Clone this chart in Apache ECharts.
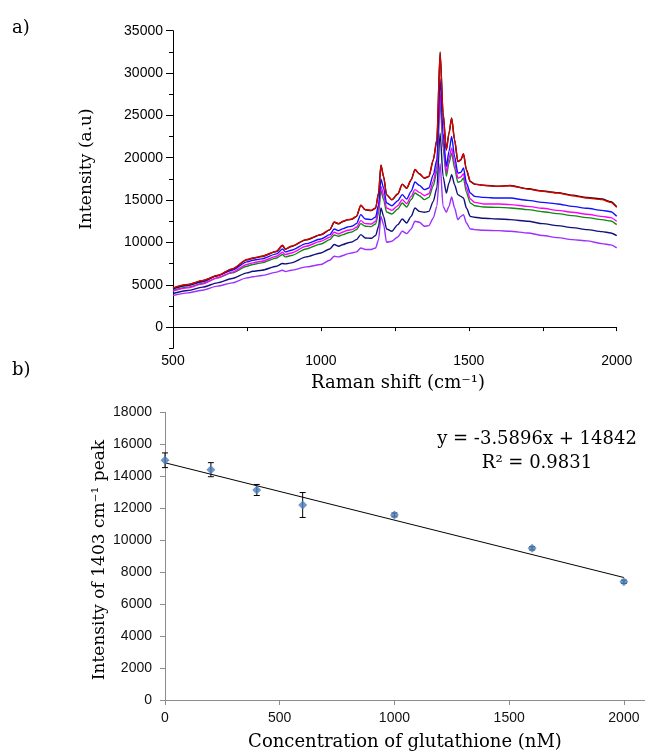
<!DOCTYPE html>
<html><head><meta charset="utf-8">
<script src="https://cdn.jsdelivr.net/npm/echarts@6/dist/echarts.min.js"></script>
<style>html,body{margin:0;padding:0;background:#fff}#c{width:645px;height:752px}</style>
</head><body><div id="c"></div><script>
// ---- Panel a) Raman spectra ----
const ramanShift = [500,550,600,650,700,750,770,800,850,870, 880,900,950,1000,1030,1045,1060,1075,1090,1105, 1120,1135,1150,1170,1185,1195,1203,1212,1222,1240, 1260,1275,1290,1305,1318,1333,1350,1365,1380,1392, 1403,1413,1424,1433,1442,1452,1463,1473,1482,1492, 1505,1520,1550,1600,1640,1700,1750,1800,1850,1900, 1950,1980,2000];
const specBlack = [4600,5000,5480,6060,6850,7940,8140,8340,8930,9640, 9200,9520,10300,10900,11480,12390,12200,12470,12660,12740, 13050,14380,13840,13760,14040,15800,19150,17760,15610,15020, 15720,16860,16390,17370,18590,18080,17570,17770,19730,22100, 32500,25300,20900,22870,24700,22090,19540,19730,20440,18560, 17190,16880,16760,16640,16720,16330,16070,15880,15580,15310, 15120,14800,14220];
const specRed = [4640,5030,5500,6090,6880,7980,8170,8370,8960,9670, 9230,9550,10330,10920,11510,12420,12220,12500,12690,12770, 13080,14420,13870,13790,14070,15830,19090,17800,15640,15050, 15750,16890,16420,17400,18620,18110,17600,17800,19760,22120, 32330,25260,20940,22900,24670,22120,19570,19760,20470,18580, 17210,16890,16740,16620,16700,16300,16030,15830,15520,15240, 15050,14730,14140];
const specBlue = [4520,4910,5350,6090,6720,7700,7900,8060,8650,9230, 8880,9080,9860,10410,10920,11590,11400,11630,11830,11910, 12220,13280,12770,12690,13010,14460,17480,16420,14660,14340, 14930,15640,15130,16030,17130,16740,16230,16420,17990,19760, 29270,22900,18980,20740,22510,20150,18190,18270,18780,17010, 15830,15440,15320,15240,15240,14970,14730,14540,14260,14030, 13790,13630,13080];
const specMagenta = [4250,4640,5110,5820,6490,7390,7590,7780,8370,8840, 8570,8760,9550,10140,10610,11200,11000,11240,11430,11510, 11790,12570,12220,12180,12500,13870,16620,15640,14070,13790, 14340,15050,14580,15440,16230,15910,15520,15750,17210,18980, 27620,21920,18270,19960,21140,19370,17600,17720,18110,16420, 15130,14730,14540,14540,14460,14260,14030,13790,13560,13320, 13080,12930,12500];
const specGreen = [4360,4720,5150,5820,6410,7190,7390,7590,8170,8570, 8290,8450,9230,9820,10330,10880,10730,10920,11120,11240, 11510,12220,11910,11870,12180,13480,16110,15050,13590,13360, 13950,14660,14180,15050,15830,15520,15050,15320,16700,18390, 26640,21140,17800,19370,20550,18780,17090,17210,17600,15910, 14660,14340,14180,14140,14070,13870,13630,13400,13160,12930, 12690,12530,12100];
const specNavy = [3970,4320,4720,5230,5740,6410,6600,6720,7190,7510, 7470,7590,8290,8760,9230,9750,9550,9750,9940,10060, 10330,10920,10530,10490,10810,11910,14070,13080,11590,11320, 12100,12770,12300,13080,14070,13670,13560,13670,14850,16420, 22900,17800,15830,17010,17990,16820,15640,15440,15240,14070, 13080,12970,12850,12770,12690,12500,12220,11980,11750,11510, 11280,11120,10810];
const specPurple = [3740,4050,4360,4840,5230,5820,5940,6090,6490,6720, 6560,6720,7110,7390,7900,8370,8290,8450,8650,8760, 8880,9350,9160,9160,9350,10330,13080,12100,10020,10140, 10650,11320,11040,11590,12500,12380,11910,11980,12890,14260, 19290,14260,13560,14260,15360,14070,12690,13080,13280,12300, 11590,11510,11430,11390,11320,11120,10810,10570,10330,10180, 9860,9710,9350];
const spectraYTicks = [0,5000,10000,15000,20000,25000,30000,35000];
const spectraXTicks = [500,1000,1500,2000];

// ---- Panel b) calibration ----
const concentration = [0,200,400,600,1000,1600,2000];
const peakIntensity = [15000,14410,13140,12200,11580,9490,7400];
const peakError = [460,440,345,780,120,100,100];
const trendX = [0,2000];
const trendY = [14842,7663];
const concXTicks = [0,500,1000,1500,2000];

const pair = (xs, ys) => xs.map((x, i) => [x, ys[i]]);
const serif = 'DejaVu Serif';
const sans = 'Liberation Sans';
const plain = v => String(v);

const spectra = [
  {name:'purple', data:specPurple, color:'#9b30ff'},
  {name:'navy', data:specNavy, color:'#10107a'},
  {name:'green', data:specGreen, color:'#108a10'},
  {name:'magenta', data:specMagenta, color:'#ff00ff'},
  {name:'blue', data:specBlue, color:'#1010ff'},
  {name:'black', data:specBlack, color:'#000000'},
  {name:'red', data:specRed, color:'#d80000'}
];

const chart = echarts.init(document.getElementById('c'), null, {renderer:'canvas'});
const option = {
  animation:false,
  backgroundColor:'#fff',
  grid:[
    {left:173, top:30.7, width:443.7, height:317.6},
    {left:165, top:412.3, width:480, height:287.7}
  ],
  xAxis:[
    {gridIndex:0, type:'value', min:500, max:2000, interval:250,
     axisLine:{lineStyle:{color:'#000', width:1}},
     axisTick:{show:true, length:4, lineStyle:{color:'#000'}},
     axisLabel:{customValues:spectraXTicks, formatter:plain, color:'#000', fontFamily:sans, fontSize:14, margin:6},
     splitLine:{show:false}},
    {gridIndex:1, type:'value', min:0, max:2092,
     axisLine:{lineStyle:{color:'#8c8c8c', width:1}},
     axisTick:{show:true, customValues:concXTicks, length:5, lineStyle:{color:'#8c8c8c'}},
     axisLabel:{customValues:concXTicks, formatter:plain, color:'#111', fontFamily:sans, fontSize:14, margin:11},
     splitLine:{show:false}}
  ],
  yAxis:[
    {gridIndex:0, type:'value', position:'left', min:-2500, max:35000, interval:2500,
     axisLine:{show:true, lineStyle:{color:'#000', width:1}},
     axisTick:{show:true, length:4, lineStyle:{color:'#000'}},
     axisLabel:{customValues:spectraYTicks, formatter:plain, color:'#000', fontFamily:sans, fontSize:14, margin:10},
     splitLine:{show:false}},
    {gridIndex:0, type:'value', position:'left', offset:0, min:-2500, max:35000,
     axisLine:{show:false},
     axisTick:{show:true, customValues:spectraYTicks, length:7, lineStyle:{color:'#000'}},
     axisLabel:{show:false},
     splitLine:{show:false}},
    {gridIndex:1, type:'value', position:'left', min:0, max:18000, interval:2000,
     axisLine:{show:true, lineStyle:{color:'#8c8c8c', width:1}},
     axisTick:{show:true, length:5, lineStyle:{color:'#8c8c8c'}},
     axisLabel:{formatter:plain, color:'#111', fontFamily:sans, fontSize:14, margin:13},
     splitLine:{show:false}}
  ],
  series:[
    ...spectra.map(s => ({
      name:s.name, type:'line', xAxisIndex:0, yAxisIndex:0,
      data:pair(ramanShift, s.data), showSymbol:false, smooth:0.25, smoothMonotone:'x',
      lineStyle:{color:s.color, width:1.4}, itemStyle:{color:s.color}
    })),
    {type:'line', xAxisIndex:1, yAxisIndex:2, data:pair(trendX, trendY), showSymbol:false,
     lineStyle:{color:'#000', width:1}, z:1},
    {type:'custom', xAxisIndex:1, yAxisIndex:2, z:2,
     data:concentration.map((c,i)=>[c, peakIntensity[i]-peakError[i], peakIntensity[i]+peakError[i]]),
     encode:{x:0, y:[1,2]},
     renderItem:(params, api) => {
       const x = api.value(0);
       const lo = api.coord([x, api.value(1)]);
       const hi = api.coord([x, api.value(2)]);
       const w = 3;
       const st = {stroke:'#000', lineWidth:1};
       return {type:'group', children:[
         {type:'line', shape:{x1:lo[0], y1:lo[1], x2:hi[0], y2:hi[1]}, style:st},
         {type:'line', shape:{x1:hi[0]-w, y1:hi[1], x2:hi[0]+w, y2:hi[1]}, style:st},
         {type:'line', shape:{x1:lo[0]-w, y1:lo[1], x2:lo[0]+w, y2:lo[1]}, style:st}
       ]};
     }},
    {type:'scatter', xAxisIndex:1, yAxisIndex:2, z:3, data:pair(concentration, peakIntensity),
     symbol:'diamond', symbolSize:[9,9], itemStyle:{color:'#4a7ebb'}}
  ],
  graphic:[
    {type:'text', left:12, top:19, style:{text:'a)', font:'18px "'+serif+'"', fill:'#000'}},
    {type:'text', left:12, top:361, style:{text:'b)', font:'18px "'+serif+'"', fill:'#000'}},
    {type:'text', x:87, y:169, rotation:Math.PI/2,
     style:{text:'Intensity (a.u)', font:'17px "'+serif+'"', fill:'#000', align:'center', verticalAlign:'middle'}},
    {type:'text', x:398, y:383,
     style:{text:'Raman shift (cm⁻¹)', font:'18px "'+serif+'"', fill:'#000', align:'center', verticalAlign:'middle'}},
    {type:'text', x:100, y:560, rotation:Math.PI/2,
     style:{text:'Intensity of 1403 cm⁻¹ peak', font:'17px "'+serif+'"', fill:'#000', align:'center', verticalAlign:'middle'}},
    {type:'text', x:405, y:742,
     style:{text:'Concentration of glutathione (nM)', font:'18px "'+serif+'"', fill:'#000', align:'center', verticalAlign:'middle'}},
    {type:'text', x:537, y:439,
     style:{text:'y = -3.5896x + 14842', font:'18px "'+serif+'"', fill:'#000', align:'center', verticalAlign:'middle'}},
    {type:'text', x:537, y:463,
     style:{text:'R² = 0.9831', font:'18px "'+serif+'"', fill:'#000', align:'center', verticalAlign:'middle'}}
  ]
};
chart.setOption(option);
</script></body></html>
